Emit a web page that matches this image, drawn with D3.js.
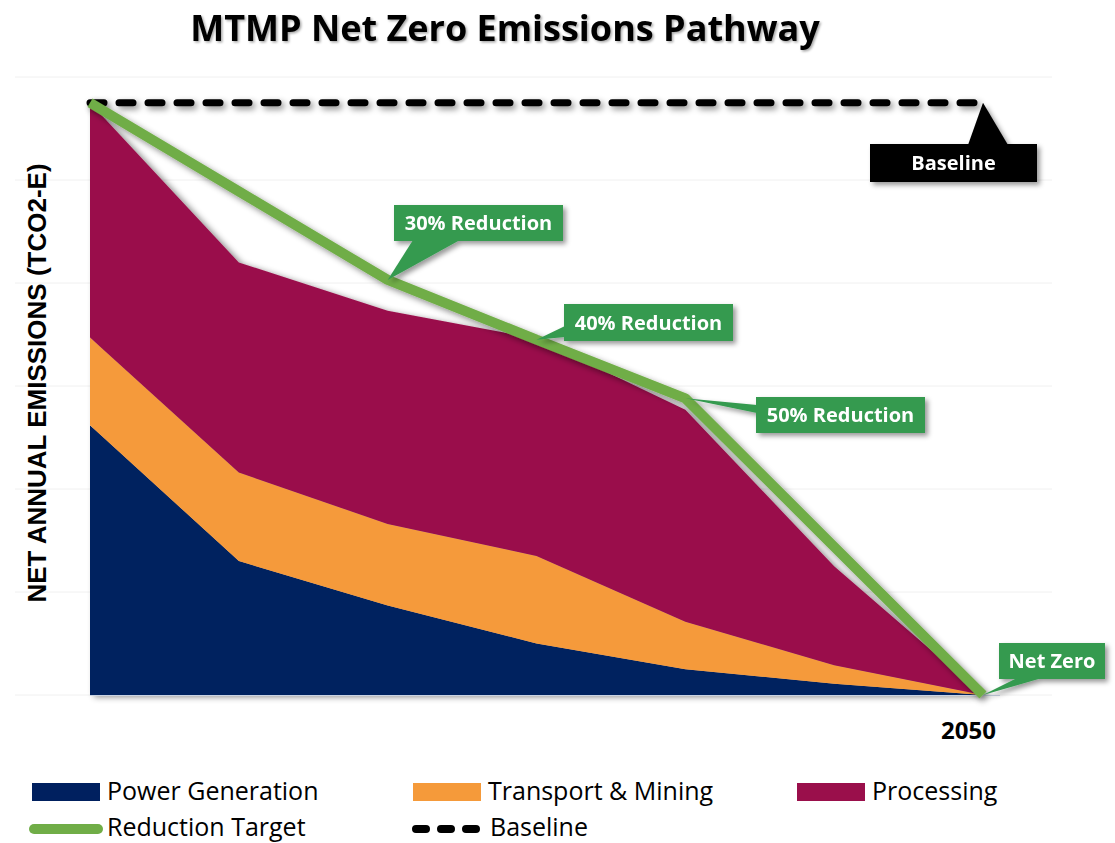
<!DOCTYPE html>
<html>
<head>
<meta charset="utf-8">
<script src="https://cdn.jsdelivr.net/npm/d3@7"></script>
<style>
  html, body { margin: 0; padding: 0; background: #fff; }
  svg { display: block; }
</style>
</head>
<body>
<svg id="chart"></svg>
<script>
// emissions pathway, values in relative units (one gridline = 1)
const years = [2020, 2025, 2030, 2035, 2040, 2045, 2050];
const power = [2.62, 1.30, 0.87, 0.50, 0.25, 0.11, 0];
const transport = [0.85, 0.86, 0.79, 0.85, 0.46, 0.18, 0];
const processing = [2.28, 2.04, 2.07, 2.11, 2.06, 0.96, 0];
const target = [5.75, 4.89, 4.03, 3.45, 2.88, 1.44, 0];
const baseline = [5.75, 5.75, 5.75, 5.75, 5.75, 5.75, 5.75];
const gridTicks = [0, 1, 2, 3, 4, 5, 6];

const seriesNames = ["Power Generation", "Transport & Mining", "Processing"];
const seriesColors = ["#00205f", "#f59a3a", "#9a0f4b"];
const targetColor = "#70ad47";
const calloutColor = "#349a4f";

const width = 1115, height = 843;
const svg = d3.select("#chart").attr("width", width).attr("height", height);

const x = d3.scaleLinear().domain([2020, 2050]).range([90, 983]);
const y = d3.scaleLinear().domain([0, 6]).range([695, 77]);

const defs = svg.append("defs");
function shadow(id, dx, dy, sd, op) {
  // user space region so flat lines (zero-height bbox) still render
  defs.append("filter").attr("id", id)
    .attr("filterUnits", "userSpaceOnUse")
    .attr("x", 0).attr("y", 0).attr("width", width).attr("height", height)
    .append("feDropShadow")
    .attr("dx", dx).attr("dy", dy).attr("stdDeviation", sd)
    .attr("flood-color", "#000").attr("flood-opacity", op);
}
shadow("shArea", 4, 2, 3, 0.45);
shadow("shLine", 3, 3, 3, 0.45);
shadow("shBox", 3, 3, 2.5, 0.4);
shadow("shTitle", 1.5, 1.5, 1, 0.35);

// title
svg.append("text")
  .attr("x", 505).attr("y", 41)
  .attr("text-anchor", "middle")
  .attr("font-family", "'Open Sans', sans-serif")
  .attr("font-weight", 700).attr("font-size", 36)
  .attr("filter", "url(#shTitle)")
  .text("MTMP Net Zero Emissions Pathway");

// gridlines
svg.append("g").selectAll("line").data(gridTicks).enter().append("line")
  .attr("x1", 15).attr("x2", 1052)
  .attr("y1", d => y(d)).attr("y2", d => y(d))
  .attr("stroke", "#f0f0f0").attr("stroke-width", 1);

// stacked areas
const rows = years.map((yr, i) => ({ year: yr, p0: power[i], p1: transport[i], p2: processing[i] }));
const stack = d3.stack().keys(["p0", "p1", "p2"]);
const layers = stack(rows);
const area = d3.area()
  .x(d => x(d.data.year))
  .y0(d => y(d[0]))
  .y1(d => y(d[1]));

svg.append("g").attr("filter", "url(#shArea)")
  .selectAll("path").data(layers).enter().append("path")
  .attr("d", area)
  .attr("fill", (d, i) => seriesColors[i]);

// axis line
svg.append("line")
  .attr("x1", x(2020)).attr("x2", 1000)
  .attr("y1", y(0) + 0.5).attr("y2", y(0) + 0.5)
  .attr("stroke", "#c9d3e3").attr("stroke-width", 1);

// x label (only final year shown)
const xAxis = d3.axisBottom(x).tickValues([2050]).tickFormat(d3.format("d")).tickSize(0);
const gx = svg.append("g").attr("transform", `translate(-15,${y(0)})`).call(xAxis);
gx.select(".domain").remove();
gx.selectAll("text")
  .attr("dy", 0).attr("y", 44)
  .attr("font-family", "'Open Sans', sans-serif")
  .attr("font-weight", 700).attr("font-size", 24).attr("fill", "#000");

// y label
svg.append("text")
  .attr("transform", "translate(46,383) rotate(-90)")
  .attr("text-anchor", "middle")
  .attr("font-family", "'Liberation Sans', Arial, sans-serif")
  .attr("font-weight", 700).attr("font-size", 26)
  .text("NET ANNUAL EMISSIONS (TCO2-E)");

const line = d3.line().x((d, i) => x(years[i])).y(d => y(d));

// baseline dashed line
svg.append("path")
  .attr("d", line(baseline))
  .attr("fill", "none").attr("stroke", "#000")
  .attr("stroke-width", 7).attr("stroke-linecap", "round")
  .attr("stroke-dasharray", "14,15")
  .attr("filter", "url(#shLine)");

// reduction target line
svg.append("path")
  .attr("d", line(target))
  .attr("fill", "none").attr("stroke", targetColor)
  .attr("stroke-width", 10).attr("stroke-linejoin", "bevel")
  .attr("filter", "url(#shLine)");

// callouts: box + wedge to a data point
const callouts = [
  { text: "Baseline", idx: 6, series: baseline, fill: "#000", box: [870, 144, 167, 38], wedge: [[968, 145], [1008, 145]] },
  { text: "30% Reduction", idx: 2, series: target, fill: calloutColor, box: [394, 205, 169, 36], wedge: [[413, 240], [460, 240]] },
  { text: "40% Reduction", idx: 3, series: target, fill: calloutColor, box: [564, 304, 169, 37], wedge: [[565, 326], [565, 337]] },
  { text: "50% Reduction", idx: 4, series: target, fill: calloutColor, box: [756, 397, 169, 36], wedge: [[757, 405], [757, 413]] },
  { text: "Net Zero", idx: 6, series: target, fill: calloutColor, box: [999, 643, 106, 36], wedge: [[1017, 678], [1042, 678]] }
];

const cg = svg.append("g").selectAll("g").data(callouts).enter().append("g")
  .attr("filter", "url(#shBox)");
cg.append("path")
  .attr("d", d => {
    const tx = x(years[d.idx]), ty = y(d.series[d.idx]);
    return `M${d.wedge[0][0]},${d.wedge[0][1]}L${tx},${ty}L${d.wedge[1][0]},${d.wedge[1][1]}Z`;
  })
  .attr("fill", d => d.fill);
cg.append("rect")
  .attr("x", d => d.box[0]).attr("y", d => d.box[1])
  .attr("width", d => d.box[2]).attr("height", d => d.box[3])
  .attr("fill", d => d.fill);
cg.append("text")
  .attr("x", d => d.box[0] + d.box[2] / 2)
  .attr("y", d => d.box[1] + d.box[3] / 2 + 7)
  .attr("text-anchor", "middle")
  .attr("font-family", "'Open Sans', sans-serif")
  .attr("font-weight", 700).attr("font-size", 20)
  .attr("fill", "#fff")
  .text(d => d.text);

// legend
const legend = svg.append("g")
  .attr("font-family", "'Open Sans', sans-serif").attr("font-size", 25);
const areaLegend = seriesNames.map((n, i) => ({ name: n, color: seriesColors[i], x: [32, 413, 797][i] }));
areaLegend.forEach(d => {
  legend.append("rect").attr("x", d.x).attr("y", 783).attr("width", 68).attr("height", 18).attr("fill", d.color);
  legend.append("text").attr("x", d.x + 75).attr("y", 800).text(d.name);
});
legend.append("line")
  .attr("x1", 34).attr("x2", 98).attr("y1", 829).attr("y2", 829)
  .attr("stroke", targetColor).attr("stroke-width", 10).attr("stroke-linecap", "round");
legend.append("text").attr("x", 107).attr("y", 836).text("Reduction Target");
legend.append("line")
  .attr("x1", 416).attr("x2", 482).attr("y1", 829).attr("y2", 829)
  .attr("stroke", "#000").attr("stroke-width", 8).attr("stroke-linecap", "round")
  .attr("stroke-dasharray", "10,15");
legend.append("text").attr("x", 490).attr("y", 836).text("Baseline");
</script>
</body>
</html>
